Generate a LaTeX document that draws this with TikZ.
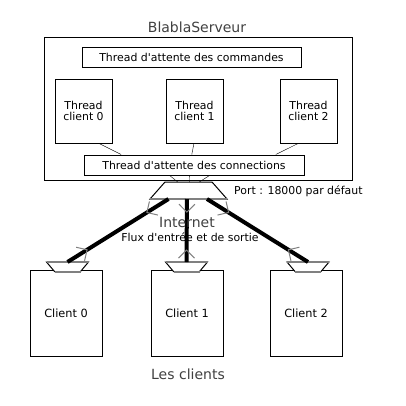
\documentclass[tikz,border=0pt]{standalone}
\usepackage{fontspec}
\setmainfont{DejaVu Sans}
\usetikzlibrary{arrows.meta,decorations.markings,calc}

\begin{document}
\begin{tikzpicture}[x=1pt,y=-1pt]
    \tikzstyle{every node}+=[inner sep=0pt]
    \tikzstyle{boite}=[draw=black, line width=1pt, align=center, font=\fontsize{10.9pt}{11pt}\selectfont]
    \tikzstyle{texte}=[font=\fontsize{10.9pt}{11pt}\selectfont]
    \tikzstyle{titre}=[text=black!75, font=\fontsize{14pt}{16pt}\selectfont]
    \tikzstyle{prise}=[draw=black, line width=1pt, fill=white]
    \tikzstyle{bord}=[draw=gray, line width=2pt]
    \tikzset{chevron/.tip={Straight Barb[gray, line width=1pt, length=8pt, width=16pt]}}
    \tikzstyle{flux}=[black, line width=4pt, postaction={decorate}, decoration={markings, mark=at position 0.22 with {\arrow{chevron}}, mark=at position 0.8 with {\arrowreversed{chevron}}}]
    \useasboundingbox (0,0) rectangle (406,405);
    \node [titre] (titre) at (197,27) {BlablaServeur};
    \node [boite, minimum width=308, minimum height=143] (serveur) at (198,108.5) {};
    \node [boite, minimum width=219, minimum height=20] (attente) at (191.5,57) {Thread d\textquotesingle attente des commandes};
    \node [boite, minimum width=57, minimum height=64] (tc0) at (83.5,111) {Thread\\client 0};
    \node [boite, minimum width=57, minimum height=64] (tc1) at (194.5,111) {Thread\\client 1};
    \node [boite, minimum width=57, minimum height=64] (tc2) at (308.5,111) {Thread\\client 2};
    \node [boite, minimum width=220, minimum height=20] (conn) at (194,165) {Thread d\textquotesingle attente des connections};
    \draw [black] ($(tc0.south west)!0.77!(tc0.south east)$) -- ($(conn.north west)!0.17!(conn.north east)$);
    \draw [black] ($(tc1.south west)!0.49!(tc1.south east)$) -- ($(conn.north west)!0.49!(conn.north east)$);
    \draw [black] ($(tc2.south west)!0.32!(tc2.south east)$) -- ($(conn.north west)!0.87!(conn.north east)$);
    \coordinate (portHG) at (165,182);
    \coordinate (portHD) at (212,182);
    \coordinate (portBD) at (227,199);
    \coordinate (portBG) at (150,199);
    \draw [prise] (portHG) -- (portHD) -- (portBD) -- (portBG) -- cycle;
    \draw [bord] (portBG) -- (portBD);
    \draw [black] ($(conn.south west)!0.39!(conn.south east)$) -- ($(portHG)!0.27!(portHD)$);
    \draw [black] ($(conn.south west)!0.48!(conn.south east)$) -- ($(portHG)!0.52!(portHD)$);
    \draw [black] ($(conn.south west)!0.57!(conn.south east)$) -- ($(portHG)!0.73!(portHD)$);
    \node [texte, anchor=west] (portlabel) at (234,191) {Port : 18000 par défaut};
    \node [boite, minimum width=72, minimum height=86, font=\fontsize{11.3pt}{12pt}\selectfont] (c0) at (66,313) {Client 0};
    \node [boite, minimum width=72, minimum height=86, font=\fontsize{11.3pt}{12pt}\selectfont] (c1) at (187,313) {Client 1};
    \node [boite, minimum width=72, minimum height=86, font=\fontsize{11.3pt}{12pt}\selectfont] (c2) at (306,313) {Client 2};
    \coordinate (p0HG) at (46.5,262);
    \coordinate (p0HD) at (88.5,262);
    \coordinate (p0BD) at (80.5,271.5);
    \coordinate (p0BG) at (54.5,271.5);
    \coordinate (p1HG) at (165.5,262);
    \coordinate (p1HD) at (207.5,262);
    \coordinate (p1BD) at (199.5,271.5);
    \coordinate (p1BG) at (173.5,271.5);
    \coordinate (p2HG) at (287,262);
    \coordinate (p2HD) at (329,262);
    \coordinate (p2BD) at (321,271.5);
    \coordinate (p2BG) at (295,271.5);
    \draw [prise] (p0HG) -- (p0HD) -- (p0BD) -- (p0BG) -- cycle;
    \draw [prise] (p1HG) -- (p1HD) -- (p1BD) -- (p1BG) -- cycle;
    \draw [prise] (p2HG) -- (p2HD) -- (p2BD) -- (p2BG) -- cycle;
    \draw [bord] (p0HG) -- (p0HD);
    \draw [bord] (p0BG) -- (p0BD);
    \draw [bord] (p1HG) -- (p1HD);
    \draw [bord] (p1BG) -- (p1BD);
    \draw [bord] (p2HG) -- (p2HD);
    \draw [bord] (p2BG) -- (p2BD);
    \draw [flux] ($(portBG)!0.24!(portBD)$) -- ($(p0HG)!0.5!(p0HD)$);
    \draw [flux] ($(portBG)!0.48!(portBD)$) -- ($(p1HG)!0.5!(p1HD)$);
    \draw [flux] ($(portBG)!0.74!(portBD)$) -- ($(p2HG)!0.5!(p2HD)$);
    \node [titre] (internet) at (187,222) {Internet};
    \node [texte] (flux) at (190,237) {Flux d\textquotesingle entrée et de sortie};
    \node [titre] (clients) at (188,374) {Les clients};
\end{tikzpicture}
\end{document}
